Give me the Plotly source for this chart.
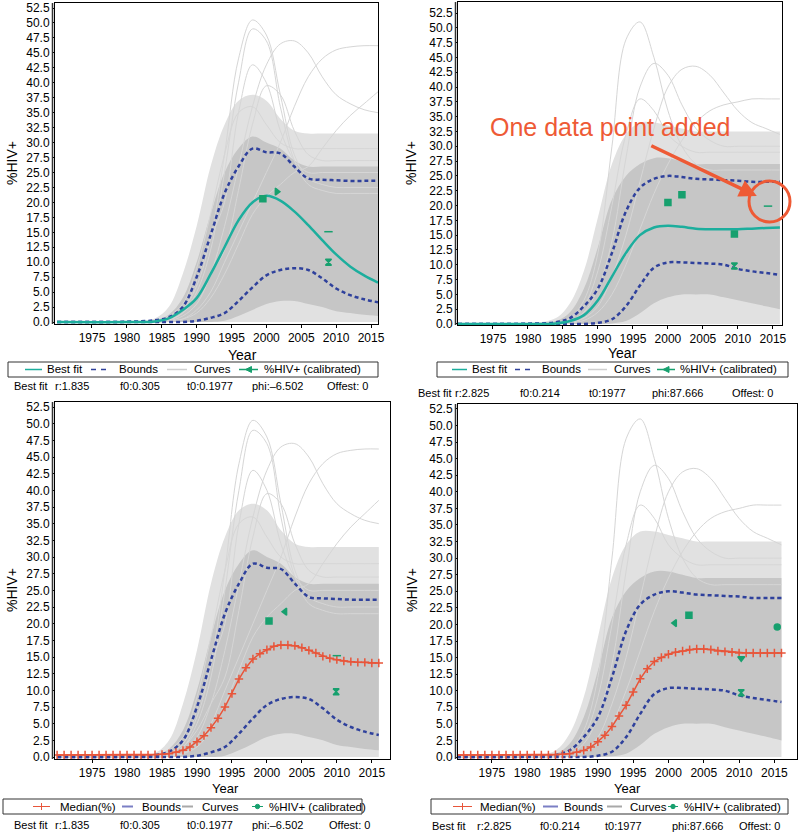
import plotly.graph_objects as go

W, H = 800, 832
FONT = "Liberation Sans, Arial, sans-serif"

# common year grid for curves
YRS = [1970, 1980, 1984, 1986, 1988, 1990, 1992, 1994, 1996, 1998, 2000, 2002, 2004, 2006, 2008, 2010, 2012, 2014, 2016]
MED_YRS = list(range(1970, 2017))

# ---- model A (r:1.835), used top-left and bottom-left
A_best = [0, 0, 0.1, 0.6, 2, 4, 8, 12.5, 17, 20, 21.1, 20.3, 18.5, 16.2, 13.7, 11.3, 9.3, 7.8, 6.6]
A_upper = [0, 0.05, 0.3, 0.8, 2.5, 7.5, 14.5, 21.5, 26, 29, 28.4, 28.2, 26, 24, 23.8, 23.7, 23.6, 23.6, 23.6]
A_lower = [0, 0, 0, 0, 0, 0.2, 0.7, 1.5, 3.5, 5.8, 7.8, 8.7, 9.0, 8.7, 7.3, 5.6, 4.5, 3.8, 3.3]
A_core_lo = [0, 0, 0, 0, 0, 0, 0, 0.2, 1, 2, 3, 3.5, 3.5, 3, 2.5, 1.8, 1.5, 1.2, 1]
A_core_hi = [0, 0.05, 0.3, 1.2, 4, 10, 18, 25, 29, 31, 30, 29, 27, 26, 26, 26, 26, 26, 26]
A_halo_hi = [0, 0.1, 0.6, 2.5, 8, 16, 26, 33, 37, 38, 37, 34, 32, 31.5, 31.5, 31.5, 31.5, 31.5, 31.5]
A_runs = [
    [0, 0, 0.1, 0.5, 2, 6, 14, 28, 44, 50.5, 48, 38, 28, 24, 23, 22.5, 22.5, 22.5, 22.5],
    [0, 0, 0.1, 0.4, 1.5, 5, 12, 25, 40, 49, 47, 36, 27, 23, 22, 21.5, 21.5, 21.5, 21.5],
    [0, 0, 0, 0.2, 1, 3, 8, 16, 26, 36, 43, 46.5, 47, 45, 41, 38, 36.5, 35.5, 35],
    [0, 0, 0, 0.1, 0.5, 2, 5, 10, 15, 20, 25, 30, 36, 41, 44, 45.5, 46, 46.2, 46.2],
    [0, 0, 0, 0.1, 0.5, 1.5, 4, 8, 13, 18, 21, 23, 25, 26, 29, 32, 34.5, 36.5, 38.5],
    [0, 0, 0.1, 0.5, 2, 7, 14, 20, 35, 43, 40, 32, 27, 25, 25, 25, 25, 25, 25],
    [0, 0, 0, 0.3, 1.5, 4, 8, 12, 22, 33, 39.5, 38, 32, 28, 27, 27, 27, 27, 27],
    [0, 0, 0.2, 1, 3, 9, 18, 28, 35, 36, 33, 30, 29, 29, 29, 29, 29, 29, 29],
]
A_pts_x_top = [1999.5, 2001.5, 2008.9, 2008.9]
A_pts_y_top = [20.6, 21.8, 15.1, 10.0]
A_pts_x_bot = [2000.3, 2002.6, 2010.0, 2009.9]
A_pts_y_bot = [20.4, 21.8, 15.2, 9.8]
A_median = [0.3] * 14 + [0.35, 0.4, 0.5, 0.7, 1.0, 1.5, 2.3, 3.2, 4.4, 5.8, 7.5, 9.5, 11.7, 13.4, 14.7,
                         15.5, 16.1, 16.6, 16.8, 16.8, 16.7, 16.4, 16.0, 15.6, 15.1, 14.8, 14.6, 14.4,
                         14.3, 14.2, 14.2, 14.1, 14.1]

# ---- model B (r:2.825), used top-right and bottom-right
B_best = [0, 0, 0.1, 0.5, 1.5, 4, 8, 12, 15, 16.3, 16.6, 16.4, 16.1, 16.0, 16.0, 16.0, 16.1, 16.2, 16.3]
B_upper = [0, 0.05, 0.3, 1, 3, 6, 12, 19, 23, 24.5, 25, 24.8, 24.5, 24.4, 24.3, 24.2, 24, 24, 24]
B_lower = [0, 0, 0, 0, 0, 0.2, 0.8, 3, 6.5, 9.5, 10.4, 10.4, 10.3, 10.2, 10, 9.3, 8.9, 8.6, 8.3]
B_core_lo = [0, 0, 0, 0, 0, 0, 0.1, 0.5, 1.8, 3.5, 4.5, 5, 5, 5, 4.5, 4, 3.5, 3, 2.5]
B_core_hi = [0, 0.05, 0.5, 2, 6, 13, 21, 25, 27, 28, 28, 27.5, 27, 27, 27, 27, 27, 27, 27]
B_halo_hi = [0, 0.1, 1, 3.5, 9, 18, 27, 32, 34, 34, 33.5, 33, 32.5, 32.5, 32.5, 32.5, 32.5, 32.5, 32.5]
B_runs = [
    [0, 0, 0.2, 1, 4, 12, 30, 48, 51, 45, 36, 30, 27, 26, 26, 26, 26, 26, 26],
    [0, 0, 0.1, 0.5, 2, 6, 14, 28, 40, 44, 42, 37, 33, 31, 30, 30, 30, 30, 30],
    [0, 0, 0, 0.2, 1, 3, 8, 15, 24, 33, 40, 43, 43.5, 42, 39, 36, 34, 33, 32],
    [0, 0, 0.1, 0.8, 3, 9, 20, 32, 38, 36, 32, 30, 29, 29, 29, 29, 29, 29, 29],
    [0, 0, 0, 0.1, 0.6, 2, 5, 10, 16, 22, 27, 31, 34, 36, 37, 37.5, 38, 38, 38],
]
B_pts_x_top = [2000.0, 2002.0, 2009.5, 2009.5, 2014.3]
B_pts_y_top = [20.5, 21.8, 15.2, 9.8, 19.9]
B_pts_x_bot = [2000.9, 2002.9, 2010.3, 2010.3, 2015.4]
B_pts_y_bot = [20.2, 21.4, 14.9, 9.7, 19.6]
B_median = [0.3] * 14 + [0.35, 0.4, 0.5, 0.7, 1.0, 1.5, 2.3, 3.3, 4.6, 6.2, 7.8, 9.8, 11.8, 13.3, 14.4,
                         15.0, 15.5, 15.8, 16.0, 16.2, 16.3, 16.3, 16.2, 16.0, 15.9, 15.8, 15.7, 15.7,
                         15.7, 15.7, 15.7, 15.7, 15.7]

TOP_LEGEND = ["Best fit", "Bounds", "Curves", "%HIV+ (calibrated)"]
BOT_LEGEND = ["Median(%)", "Bounds", "Curves", "%HIV+ (calibrated)"]
A_PARAMS = ["Best fit", "r:1.835", "f0:0.305", "t0:0.1977", "phi:\u20136.502", "Offest: 0"]
B_PARAMS = ["Best fit", "r:2.825", "f0:0.214", "t0:1977", "phi:87.666", "Offest: 0"]

TEAL = "#1cae9d"
BLUE = "#2f419c"
GREEN = "#17a06e"
RED = "#e8553a"
GRAY = "#d6d6d6"
ORANGE = "#ee5a35"


def px(x):
    return x / W


def py(y):
    return 1 - y / H


fig = go.Figure()

# panel layout: (axis suffix, x px domain, y px domain, x range, y range)
panels = [
    ("", (55, 378), (3, 324), (1969.7, 2016.0), (-0.33, 53.34)),
    ("2", (458, 782), (2, 325), (1970.0, 2016.3), (-0.17, 54.36)),
    ("3", (55, 390), (402, 759), (1969.7, 2017.6), (-0.3, 53.25)),
    ("4", (458, 797), (404, 759), (1970.2, 2018.2), (-0.3, 53.25)),
]

model = {"": ("A", True), "2": ("B", True), "3": ("A", False), "4": ("B", False)}
data = {
    "A": dict(best=A_best, up=A_upper, lo=A_lower, clo=A_core_lo, chi=A_core_hi, hhi=A_halo_hi,
              runs=A_runs, med=A_median),
    "B": dict(best=B_best, up=B_upper, lo=B_lower, clo=B_core_lo, chi=B_core_hi, hhi=B_halo_hi,
              runs=B_runs, med=B_median),
}
pts = {
    "": (A_pts_x_top, A_pts_y_top, ["square", "triangle-right", "line-ew", "hourglass"]),
    "2": (B_pts_x_top, B_pts_y_top, ["square", "square", "square", "hourglass", "line-ew"]),
    "3": (A_pts_x_bot, A_pts_y_bot, ["square", "triangle-left", "line-ew", "hourglass"]),
    "4": (B_pts_x_bot, B_pts_y_bot, ["triangle-left", "square", "triangle-down", "hourglass", "circle"]),
}

for suf, xd, yd, xr, yr in panels:
    m, top = model[suf]
    d = data[m]
    common = dict(xaxis="x" + suf, yaxis="y" + suf, hoverinfo="skip", showlegend=False)
    # grey spread of curves
    fig.add_trace(go.Scatter(x=YRS, y=[0] * len(YRS), mode="lines", line=dict(width=0, shape="spline"), **common))
    fig.add_trace(go.Scatter(x=YRS, y=d["hhi"], mode="lines", line=dict(width=0, shape="spline"),
                             fill="tonexty", fillcolor="#e1e1e1", **common))
    fig.add_trace(go.Scatter(x=YRS, y=d["clo"], mode="lines", line=dict(width=0, shape="spline"), **common))
    fig.add_trace(go.Scatter(x=YRS, y=d["chi"], mode="lines", line=dict(width=0, shape="spline"),
                             fill="tonexty", fillcolor="#c6c6c6", **common))
    for run in d["runs"]:
        fig.add_trace(go.Scatter(x=YRS, y=run, mode="lines",
                                 line=dict(width=1, color=GRAY, shape="spline"), **common))
    # bounds
    for b in (d["up"], d["lo"]):
        fig.add_trace(go.Scatter(x=YRS, y=b, mode="lines",
                                 line=dict(width=2.5, color=BLUE, dash="4px,3px", shape="spline"), **common))
    if top:
        fig.add_trace(go.Scatter(x=YRS, y=d["best"], mode="lines",
                                 line=dict(width=2.5, color=TEAL, shape="spline"), **common))
    else:
        fig.add_trace(go.Scatter(x=MED_YRS, y=d["med"], mode="lines+markers",
                                 line=dict(width=1.5, color=RED),
                                 marker=dict(symbol="cross-thin", size=6, line=dict(width=1.5, color=RED)),
                                 **common))
    xs, ys, sym = pts[suf]
    fig.add_trace(go.Scatter(x=xs, y=ys, mode="markers",
                             marker=dict(symbol=sym, size=6, color=GREEN, line=dict(width=1.5, color=GREEN)),
                             **common))

layout = dict(
    width=W, height=H, margin=dict(l=0, r=0, t=0, b=0, autoexpand=False),
    paper_bgcolor="white", plot_bgcolor="white", showlegend=False,
    font=dict(family=FONT, size=12, color="black"),
)
ann = []
shapes = []
for suf, xd, yd, xr, yr in panels:
    layout["xaxis" + suf] = dict(
        domain=[px(xd[0]), px(xd[1])], range=list(xr), anchor="y" + suf,
        tickvals=[1975, 1980, 1985, 1990, 1995, 2000, 2005, 2010, 2015],
        ticks="outside", ticklen=3, tickcolor="black", showgrid=False, zeroline=False,
        showline=True, linecolor="black", linewidth=1, mirror=True, automargin=False,
        ticklabeloverflow="allow", tickfont=dict(size=12, family=FONT),
    )
    layout["yaxis" + suf] = dict(
        domain=[py(yd[1]), py(yd[0])], range=list(yr), anchor="x" + suf,
        tickvals=[i * 2.5 for i in range(22)], tickformat=".1f",
        ticks="outside", ticklen=2, tickcolor="black", showgrid=False, zeroline=False,
        showline=True, linecolor="black", linewidth=1, mirror=True, automargin=False,
        ticklabeloverflow="allow", tickfont=dict(size=12, family=FONT),
    )
    # double rule on the left edge
    shapes.append(dict(type="line", xref="paper", yref="paper", x0=px(xd[0] - 2.5), x1=px(xd[0] - 2.5),
                       y0=py(yd[1]), y1=py(yd[0]), line=dict(color="#333333", width=1.5)))


def seg(x0, x1, y, color, width=1.5, dash=None):
    ln = dict(color=color, width=width)
    if dash:
        ln["dash"] = dash
    shapes.append(dict(type="line", xref="paper", yref="paper", x0=px(x0), x1=px(x1),
                       y0=py(y), y1=py(y), line=ln))


# hand-placed legend boxes: box extents, then per entry (glyph, line start, line end, text x)
legends = [
    ((8, 378, 362, 377), TOP_LEGEND, [("teal", 25, 42, 45), ("dash", 91, 108, 117),
                                      ("gray", 167, 187, 192), ("tri", 239, 258, 262)]),
    ((437, 788, 362, 377), TOP_LEGEND, [("teal", 452, 467, 470), ("dash", 515, 532, 540),
                                        ("gray", 588, 607, 612), ("tri", 657, 675, 678)]),
    ((3, 362, 799, 814), BOT_LEGEND, [("plus", 33, 50, 58), ("blue", 122, 133, 140),
                                      ("gray2", 182, 193, 200), ("dot", 252, 263, 267)]),
    ((431, 788, 799, 814), BOT_LEGEND, [("plus", 453, 472, 478), ("blue", 543, 558, 562),
                                        ("gray2", 607, 622, 628), ("dot", 668, 678, 682)]),
]
for (bx0, bx1, by0, by1), labels, entries in legends:
    shapes.append(dict(type="rect", xref="paper", yref="paper", x0=px(bx0), x1=px(bx1),
                       y0=py(by1), y1=py(by0), line=dict(color="#333333", width=1)))
    yc = (by0 + by1) / 2
    for (glyph, l0, l1, tx), lab in zip(entries, labels):
        if glyph == "teal":
            seg(l0, l1, yc, TEAL)
        elif glyph == "dash":
            seg(l0, l1, yc, BLUE, dash="5px,5px")
        elif glyph == "gray":
            seg(l0, l1, yc, "#cfcfcf")
        elif glyph == "gray2":
            seg(l0, l1, yc, "#a9a9a9", width=2)
        elif glyph == "blue":
            seg(l0, l1, yc, "#7b7fc4", width=2)
        elif glyph == "tri":
            seg(l0, l1, yc, GREEN)
            cx = (l0 + l1) / 2
            shapes.append(dict(type="path", xref="paper", yref="paper", fillcolor=GREEN,
                               line=dict(color=GREEN, width=1),
                               path=f"M {px(cx - 3)},{py(yc)} L {px(cx + 3)},{py(yc - 3)} L {px(cx + 3)},{py(yc + 3)} Z"))
        elif glyph == "plus":
            seg(l0, l1, yc, RED, width=1)
            cx = (l0 + l1) / 2
            shapes.append(dict(type="line", xref="paper", yref="paper", x0=px(cx), x1=px(cx),
                               y0=py(yc - 3.5), y1=py(yc + 3.5), line=dict(color=RED, width=1)))
        elif glyph == "dot":
            seg(l0, l1, yc, GREEN, width=1)
            cx = (l0 + l1) / 2
            shapes.append(dict(type="circle", xref="paper", yref="paper", fillcolor=GREEN,
                               line=dict(color=GREEN, width=1),
                               x0=px(cx - 2.2), x1=px(cx + 2.2), y0=py(yc + 2.2), y1=py(yc - 2.2)))
        ann.append(dict(text=lab, x=px(tx), y=py(yc), xref="paper", yref="paper", showarrow=False,
                        xanchor="left", yanchor="middle", font=dict(size=11.5, family=FONT)))

# axis titles
for x, y, s in [(242, 355, 14), (622, 353, 14), (225, 788, 13), (627, 788, 13)]:
    ann.append(dict(text="Year", x=px(x), y=py(y), xref="paper", yref="paper", showarrow=False,
                    xanchor="center", yanchor="middle", font=dict(size=s, family=FONT)))
for x, y in [(12, 163), (411, 163), (12, 590), (412, 590)]:
    ann.append(dict(text="%HIV+", x=px(x), y=py(y), xref="paper", yref="paper", showarrow=False,
                    xanchor="center", yanchor="middle", textangle=-90, font=dict(size=14, family=FONT)))

# parameter lines under each panel
param_rows = [
    (A_PARAMS, [12, 53, 118, 185, 250, 325], 386),
    (B_PARAMS, [416, 453, 518, 587, 650, 730], 393),
    (A_PARAMS, [12, 53, 118, 185, 250, 327], 825),
    (B_PARAMS, [430, 475, 538, 603, 670, 737], 826),
]
for texts, xs, y in param_rows:
    for t, x in zip(texts, xs):
        ann.append(dict(text=t, x=px(x), y=py(y), xref="paper", yref="paper", showarrow=False,
                        xanchor="left", yanchor="middle", font=dict(size=11, family=FONT)))

# callout on top-right panel
ann.append(dict(text="One data point added", x=px(610), y=py(127), xref="paper", yref="paper",
                xanchor="center", yanchor="middle", showarrow=False,
                font=dict(size=25, family=FONT, color=ORANGE)))
ann.append(dict(text="", x=2012.7, y=21.6, xref="x2", yref="y2", ax=-107, ay=-51,
                showarrow=True, arrowhead=2, arrowsize=1, arrowwidth=3.5, arrowcolor=ORANGE))
shapes.append(dict(type="circle", xref="paper", yref="paper", x0=px(749), x1=px(790),
                   y0=py(222), y1=py(181), line=dict(color=ORANGE, width=3)))

layout["annotations"] = ann
layout["shapes"] = shapes
fig.update_layout(**layout)
fig.write_html("out.html", config={"displayModeBar": False},
               post_script="document.body.style.margin='0';")
